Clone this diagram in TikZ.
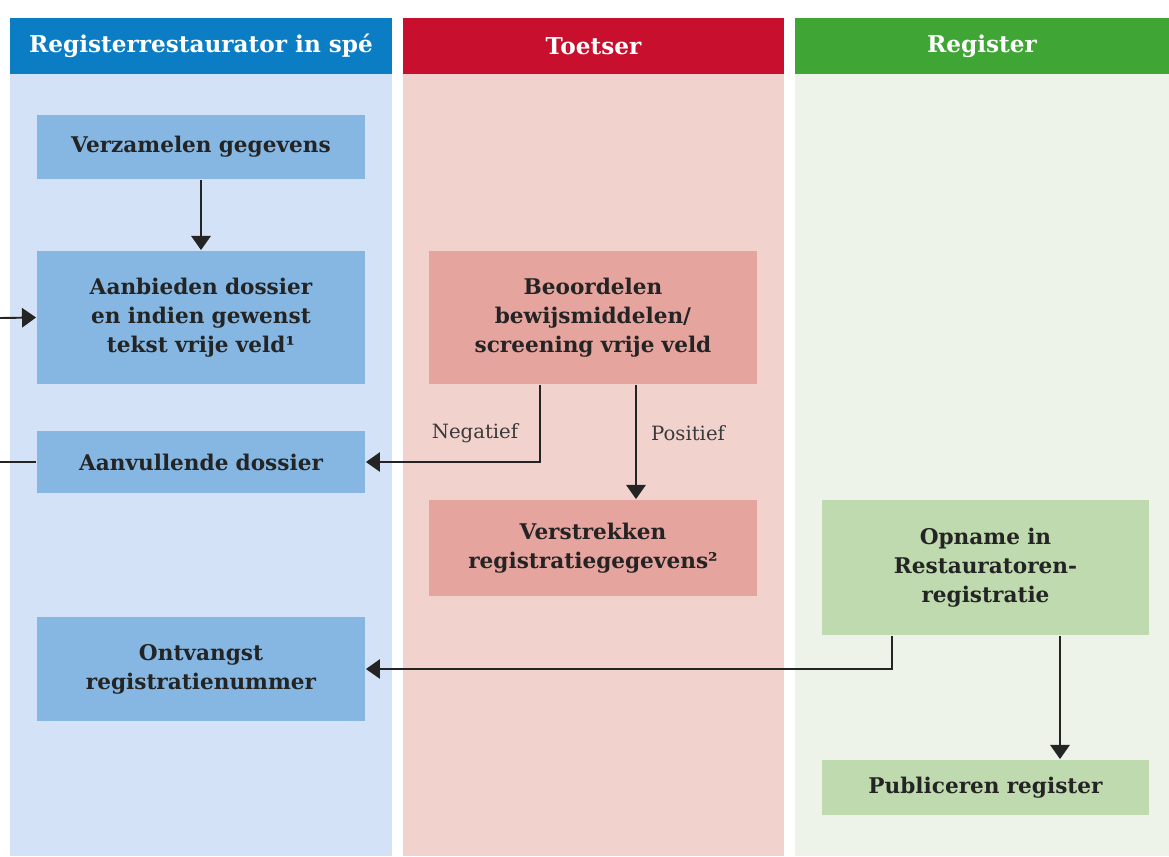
\documentclass[tikz,border=0pt]{standalone}
\usepackage{fontspec}
\setmainfont{DejaVu Serif}
\usetikzlibrary{arrows.meta,positioning}
\definecolor{bluehead}{HTML}{0A7DC4}
\definecolor{bluelane}{HTML}{D3E2F6}
\definecolor{bluebox}{HTML}{85B7E2}
\definecolor{redhead}{HTML}{C8102E}
\definecolor{redlane}{HTML}{F2D2CD}
\definecolor{redbox}{HTML}{E6A49E}
\definecolor{greenhead}{HTML}{3FA535}
\definecolor{greenlane}{HTML}{EEF3EA}
\definecolor{greenbox}{HTML}{BFDAAE}
\definecolor{ink}{HTML}{242424}
\tikzstyle{header}=[rectangle,inner sep=0pt,minimum height=1.12cm,text=white,font=\bfseries\fontsize{13.2}{15}\selectfont]
\tikzstyle{stepbox}=[rectangle,inner sep=0pt,minimum width=6.56cm,text width=6.4cm,align=center,text=ink,font=\bfseries\fontsize{12.3}{16.5}\selectfont]
\tikzstyle{branch}=[inner sep=0pt,text=ink!90,font=\fontsize{11.2}{13}\selectfont]

\begin{document}
\begin{tikzpicture}[x=0.02cm,y=-0.02cm,>={Triangle[width=11pt,length=8pt]},line width=1.1pt]
    \useasboundingbox (0,0) rectangle (1169,856);

    % lanes
    \fill[bluelane] (10,74) rectangle (392,856);
    \fill[redlane] (403,74) rectangle (784,856);
    \fill[greenlane] (795,74) rectangle (1169,856);
    \node[header,fill=bluehead,minimum width=7.64cm] (hreg) at (201,46) {Registerrestaurator in spé};
    \node[header,fill=redhead,minimum width=7.62cm] (htoets) at (593.5,46) {Toetser};
    \node[header,fill=greenhead,minimum width=7.48cm] (hregister) at (982,46) {Register};

    % boxes
    \node[stepbox,fill=bluebox,minimum height=1.28cm] (verz) at (201,147) {Verzamelen gegevens};
    \node[stepbox,fill=bluebox,minimum height=2.66cm] (aanb) at (201,317.5) {Aanbieden dossier\\en indien gewenst\\tekst vrije veld¹};
    \node[stepbox,fill=bluebox,minimum height=1.24cm] (aanv) at (201,462) {Aanvullende dossier};
    \node[stepbox,fill=bluebox,minimum height=2.08cm] (ontv) at (201,669) {Ontvangst\\registratienummer};
    \node[stepbox,fill=redbox,minimum height=2.66cm] (beoo) at (593,317.5) {Beoordelen\\bewijsmiddelen/\\screening vrije veld};
    \node[stepbox,fill=redbox,minimum height=1.92cm] (verst) at (593,548) {Verstrekken\\registratiegegevens²};
    \node[stepbox,fill=greenbox,minimum height=2.7cm] (opn) at (985.5,567.5) {Opname in\\Restauratoren-\\registratie};
    \node[stepbox,fill=greenbox,minimum height=1.1cm] (publ) at (985.5,787.5) {Publiceren register};

    \node[branch] (neglab) at (475,433) {Negatief};
    \node[branch] (poslab) at (688,433) {Positief};

    \coordinate (inL) at (0,318);
    \coordinate (outL) at (0,462);

    \draw[->,ink] (verz) -- (aanb);
    \draw[->,ink] (inL) -- (aanb.west);
    \draw[ink] (aanv.west) -- (outL);
    \draw[->,ink] ([xshift=-1.06cm]beoo.south) |- (aanv.east);
    \draw[->,ink] ([xshift=0.86cm]beoo.south) -- ([xshift=0.86cm]verst.north);
    \draw[->,ink] ([xshift=-1.87cm]opn.south) |- (ontv.east);
    \draw[->,ink] ([xshift=1.49cm]opn.south) -- ([xshift=1.49cm]publ.north);
  \end{tikzpicture}
\end{document}
